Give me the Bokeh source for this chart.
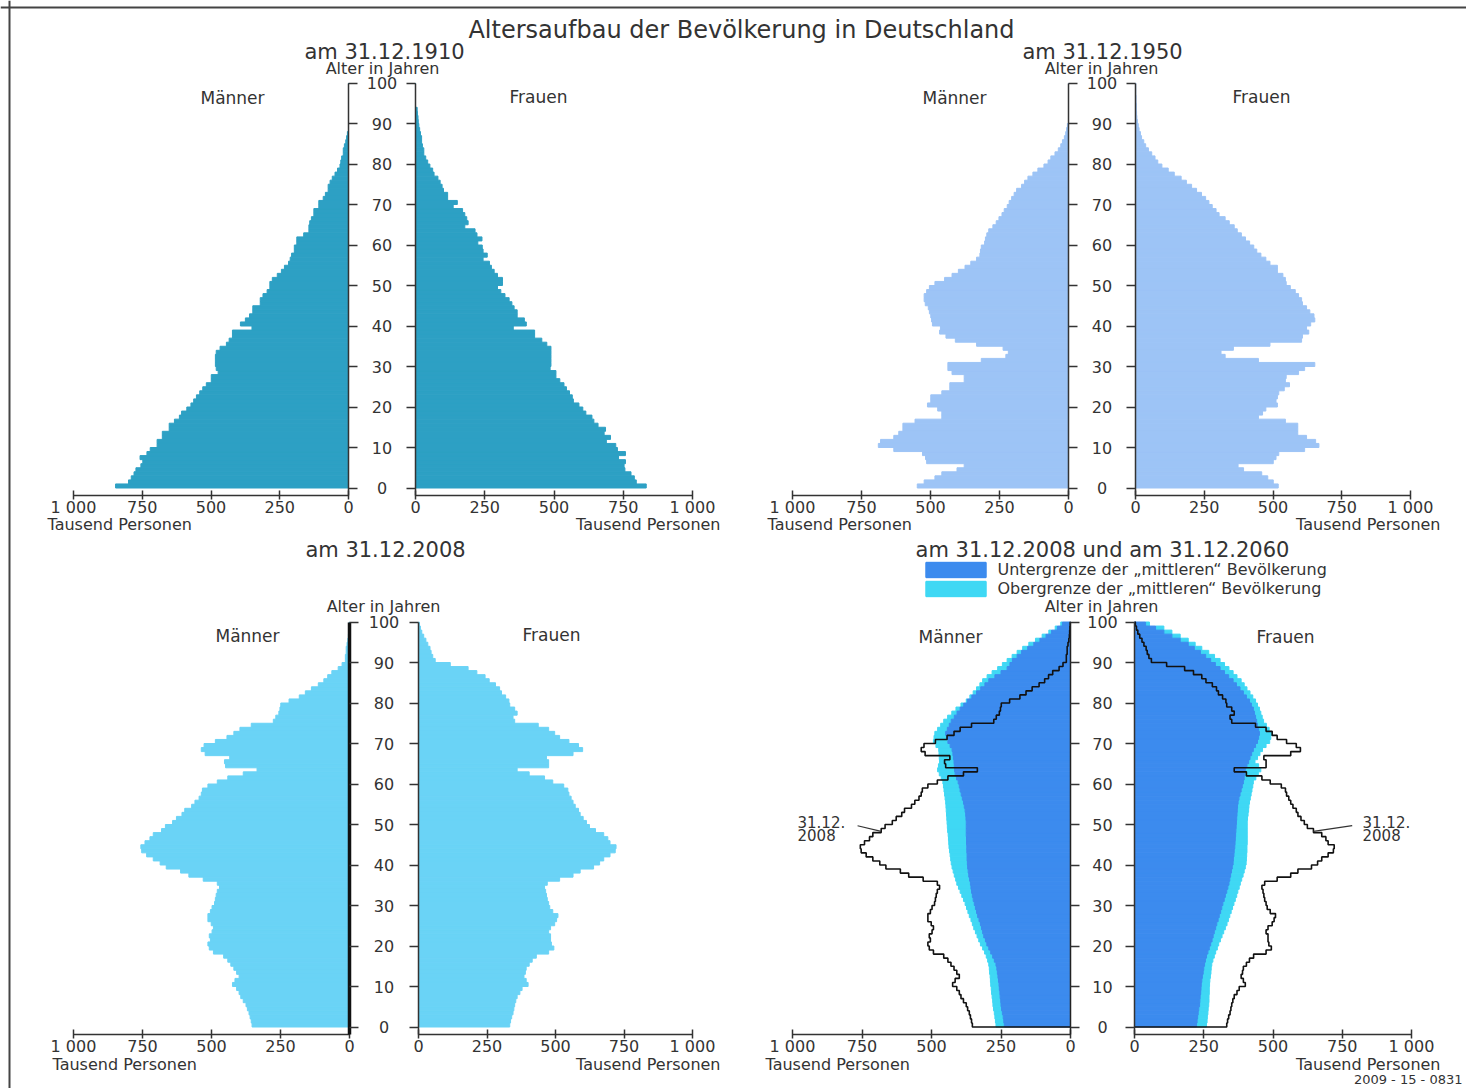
import numpy as np
from bokeh.plotting import figure
from bokeh.models import Range1d, LinearAxis, FixedTicker, Label, Legend, LegendItem, Span
from bokeh.core.properties import value
from bokeh.embed import file_html
from bokeh.resources import INLINE

# ---------------- data (thousand persons per single year of age 0..99) ----------------
AGES = np.arange(100)
AGE_TICKS = [0, 10, 20, 30, 40, 50, 60, 70, 80, 90, 100]
AGE_TICK_LABELS = [str(a) for a in AGE_TICKS]
X_TICKS = [0, 250, 500, 750, 1000]
X_TICK_LABELS = {0: "0", 250: "250", 500: "500", 750: "750", 1000: "1 000"}

M1910 = [847, 800, 790, 780, 773, 755, 748, 758, 733, 721,
         696, 696, 677, 677, 652, 652, 633, 615, 607, 588,
         573, 563, 553, 541, 530, 517, 499, 499, 474, 481,
         484, 484, 484, 481, 467, 444, 434, 422, 422, 351,
         393, 375, 360, 348, 348, 321, 321, 311, 296, 286,
         286, 277, 259, 244, 233, 218, 212, 207, 197, 197,
         188, 188, 163, 144, 144, 141, 135, 126, 126, 108,
         108, 92, 84, 74, 74, 67, 59, 49, 40, 31,
         28, 25, 19, 19, 15, 10, 7, 4, 0, 0,
         0, 0, 0, 0, 0, 0, 0, 0, 0, 0]
F1910 = [833, 797, 790, 778, 756, 753, 758, 733, 758, 729,
         723, 689, 704, 681, 686, 659, 644, 637, 615, 604,
         590, 570, 566, 556, 545, 536, 521, 507, 507, 486,
         489, 489, 489, 489, 489, 474, 456, 430, 430, 353,
         400, 393, 367, 367, 356, 348, 338, 323, 308, 296,
         314, 314, 296, 284, 274, 267, 244, 259, 244, 241,
         225, 240, 222, 215, 178, 190, 185, 178, 170, 136,
         151, 116, 116, 101, 96, 89, 81, 67, 62, 52,
         44, 37, 30, 30, 25, 22, 22, 18, 15, 12,
         10, 9, 7, 6, 0, 0, 0, 0, 0, 0]
M1950 = [548, 523, 484, 459, 404, 378, 514, 518, 529, 633,
         689, 681, 633, 615, 600, 600, 556, 459, 459, 474,
         511, 499, 499, 459, 430, 430, 378, 378, 422, 437,
         437, 316, 227, 218, 237, 333, 410, 444, 467, 464,
         493, 496, 499, 504, 508, 519, 523, 523, 514, 504,
         484, 449, 422, 399, 375, 354, 333, 321, 319, 316,
         304, 301, 296, 289, 274, 262, 252, 241, 233, 222,
         215, 206, 197, 188, 170, 159, 147, 129, 111, 89,
         74, 64, 49, 37, 28, 22, 15, 10, 7, 4,
         0, 0, 0, 0, 0, 0, 0, 0, 0, 0]
F1950 = [519, 501, 481, 459, 393, 373, 501, 511, 521, 615,
         667, 655, 622, 590, 590, 590, 545, 447, 462, 474,
         516, 511, 516, 521, 541, 560, 545, 548, 593, 615,
         652, 447, 326, 311, 356, 489, 604, 607, 630, 622,
         637, 652, 649, 634, 622, 607, 604, 593, 581, 563,
         548, 545, 536, 516, 516, 489, 474, 456, 441, 430,
         415, 400, 385, 370, 359, 341, 326, 304, 293, 279,
         267, 255, 240, 222, 204, 185, 166, 141, 119, 96,
         81, 71, 59, 47, 37, 30, 22, 18, 13, 10,
         7, 5, 4, 3, 3, 2, 2, 1, 1, 1]
M2008 = [353, 356, 360, 364, 370, 375, 385, 394, 400, 409,
         424, 415, 400, 409, 419, 430, 441, 456, 493, 508,
         513, 504, 508, 498, 493, 501, 513, 513, 504, 498,
         489, 486, 483, 479, 471, 479, 530, 582, 612, 664,
         686, 711, 735, 753, 756, 741, 723, 711, 681, 667,
         641, 627, 607, 597, 572, 560, 545, 537, 533, 513,
         479, 441, 385, 335, 449, 453, 434, 523, 537, 527,
         486, 444, 419, 397, 356, 276, 267, 256, 252, 249,
         219, 182, 160, 138, 113, 93, 79, 64, 41, 27,
         15, 15, 12, 12, 9, 6, 4, 3, 2, 1]
F2008 = [333, 336, 340, 345, 348, 351, 355, 360, 370, 378,
         400, 393, 385, 390, 393, 404, 415, 430, 475, 494,
         485, 482, 482, 475, 482, 497, 504, 509, 490, 479,
         475, 470, 467, 464, 460, 470, 515, 564, 590, 639,
         661, 676, 699, 718, 721, 699, 691, 676, 646, 624,
         613, 601, 590, 584, 572, 564, 557, 549, 545, 530,
         490, 460, 404, 360, 475, 475, 467, 564, 599, 584,
         549, 515, 497, 475, 437, 351, 345, 360, 351, 333,
         330, 318, 303, 296, 281, 258, 243, 213, 181, 116,
         61, 52, 46, 42, 34, 27, 19, 12, 7, 3]
# 2060: lower / upper bound of the "mittlere" population
M2060_LOW = [238, 240, 242, 245, 248, 250, 251, 253, 254, 256,
             257, 259, 261, 263, 265, 268, 274, 280, 287, 294,
             301, 306, 312, 316, 320, 324, 329, 334, 338, 342,
             346, 350, 353, 356, 358, 360, 363, 366, 368, 370,
             371, 372, 372, 373, 373, 374, 374, 375, 375, 375,
             375, 376, 377, 379, 382, 385, 389, 393, 397, 400,
             404, 410, 415, 417, 418, 419, 421, 423, 426, 433,
             441, 445, 449, 443, 436, 429, 418, 408, 397, 384,
             371, 355, 338, 323, 308, 294, 272, 250, 228, 218,
             209, 192, 176, 154, 132, 110, 88, 68, 47, 29]
M2060_HIGH = [268, 270, 272, 274, 277, 279, 280, 282, 284, 285,
              287, 288, 289, 291, 292, 294, 298, 303, 309, 316,
              324, 330, 336, 342, 348, 353, 358, 364, 369, 374,
              379, 385, 391, 397, 403, 409, 413, 418, 422, 426,
              429, 431, 433, 435, 437, 438, 439, 440, 442, 443,
              444, 445, 446, 447, 448, 449, 451, 453, 455, 457,
              459, 465, 472, 478, 475, 471, 472, 473, 474, 484,
              493, 491, 488, 478, 467, 456, 442, 427, 412, 394,
              375, 362, 350, 338, 326, 316, 300, 282, 262, 245,
              228, 210, 192, 172, 150, 126, 102, 78, 55, 35]
F2060_LOW = [224, 226, 228, 230, 232, 235, 236, 237, 239, 240,
             241, 243, 245, 248, 250, 253, 256, 260, 265, 270,
             275, 280, 284, 288, 293, 297, 302, 306, 311, 315,
             319, 324, 328, 333, 337, 341, 344, 347, 350, 353,
             356, 357, 359, 360, 362, 363, 364, 365, 366, 367,
             368, 369, 370, 371, 372, 374, 377, 381, 385, 389,
             393, 396, 398, 400, 406, 412, 417, 423, 429, 437,
             444, 448, 451, 448, 444, 441, 437, 433, 429, 422,
             415, 404, 393, 381, 368, 356, 340, 325, 309, 292,
             275, 257, 238, 216, 194, 165, 135, 106, 76, 40]
F2060_HIGH = [260, 262, 263, 265, 266, 268, 269, 269, 270, 270,
              271, 272, 274, 276, 277, 279, 283, 288, 293, 299,
              304, 310, 316, 322, 328, 334, 339, 344, 349, 354,
              359, 364, 369, 373, 378, 382, 387, 392, 396, 400,
              403, 404, 405, 406, 406, 407, 407, 407, 407, 407,
              407, 408, 410, 412, 413, 415, 418, 421, 424, 427,
              429, 438, 447, 456, 448, 435, 444, 453, 462, 475,
              488, 492, 496, 486, 476, 466, 461, 456, 451, 444,
              437, 427, 417, 406, 396, 385, 370, 356, 341, 325,
              309, 289, 268, 243, 219, 194, 165, 135, 106, 54]

# ---------------- style / geometry ----------------
FONT = "DejaVu Sans"
TXT = "#333333"
AX = "#333333"
C1910 = "#2da0c4"
C1950 = "#9dc4f6"
C2008 = "#6ad3f6"
C_LOW = "#3c8bee"
C_HIGH = "#3fd8f4"

W, H, OX, OY = 1466, 1088, 0, 0


def xrange_px(px0, px1000):
    s = (px1000 - px0) / 1000.0
    return Range1d(start=(OX - px0) / s, end=(OX + W - px0) / s)


def yrange_px(py0, py100):
    s = (py100 - py0) / 100.0
    return Range1d(start=(OY + H - py0) / s, end=(OY - py0) / s)


p = figure(width=W, height=H, x_range=Range1d(OX, OX + W), y_range=Range1d(OY + H, OY),
           output_backend="svg", toolbar_location=None, tools="",
           x_axis_location=None, y_axis_location=None, min_border=0,
           outline_line_color=None, background_fill_color="white")
p.grid.visible = False

p.extra_x_ranges = {
    "m1": xrange_px(348, 73), "w1": xrange_px(415, 692),
    "m2": xrange_px(1068, 792), "w2": xrange_px(1135, 1410),
    "m3": xrange_px(349, 73), "w3": xrange_px(418, 692),
    "m4": xrange_px(1070, 792), "w4": xrange_px(1134, 1411),
}
p.extra_y_ranges = {"top": yrange_px(487.5, 82.5), "bot": yrange_px(1026.5, 621.5)}

Y = AGES + 0.5


def bars(left, right, xr, yr, color):
    return p.hbar(y=Y, height=1, left=left, right=right, x_range_name=xr, y_range_name=yr,
                  fill_color=color, line_color=color, line_width=1.0)


def x_axis(xr, yr):
    ax = LinearAxis(x_range_name=xr, y_range_name=yr, fixed_location=-1.8, bounds=(0, 1000),
                    ticker=FixedTicker(ticks=X_TICKS), major_label_overrides=X_TICK_LABELS,
                    axis_line_color=AX, axis_line_width=1.5,
                    major_tick_line_color=AX, major_tick_line_width=1.5,
                    major_tick_in=5, major_tick_out=4, minor_tick_line_color=None,
                    major_label_standoff=-1, major_label_text_font=FONT,
                    major_label_text_font_size="16px", major_label_text_color=TXT)
    p.add_layout(ax, "below")


def age_axis(xr, yr, side, width=1.5, color=AX):
    ax = LinearAxis(x_range_name=xr, y_range_name=yr, fixed_location=0, bounds=(-1.8, 100),
                    ticker=FixedTicker(ticks=AGE_TICKS),
                    axis_line_color=color, axis_line_width=width,
                    major_tick_line_color=AX, major_tick_line_width=1.5,
                    major_tick_in=0, major_tick_out=9, minor_tick_line_color=None,
                    major_label_text_color=None)
    p.add_layout(ax, side)


def age_labels(cx, yr):
    p.text(x=[cx] * len(AGE_TICKS), y=AGE_TICKS, text=AGE_TICK_LABELS, y_range_name=yr,
           text_align="center", text_baseline="middle", text_font=value(FONT),
           text_font_size="16px", text_color=TXT)


def label(x, y, text, size, align="center"):
    p.add_layout(Label(x=x, y=y, text=text, text_font=FONT, text_font_size=size,
                       text_color=TXT, text_align=align, text_baseline="middle"))


# panel 1 : 1910
bars(0, M1910, "m1", "top", C1910)
bars(0, F1910, "w1", "top", C1910)
# panel 2 : 1950
bars(0, M1950, "m2", "top", C1950)
bars(0, F1950, "w2", "top", C1950)
# panel 3 : 2008
bars(0, M2008, "m3", "bot", C2008)
bars(0, F2008, "w3", "bot", C2008)
# panel 4 : 2060 bands + 2008 outline
hi_m = bars(M2060_LOW, M2060_HIGH, "m4", "bot", C_HIGH)
hi_f = bars(F2060_LOW, F2060_HIGH, "w4", "bot", C_HIGH)
lo_m = bars(0, M2060_LOW, "m4", "bot", C_LOW)
lo_f = bars(0, F2060_LOW, "w4", "bot", C_LOW)


def outline(vals, xr):
    xs = np.concatenate([[0], np.repeat(vals, 2), [0]])
    ys = np.concatenate([[0], np.column_stack([AGES, AGES + 1]).ravel(), [100]])
    p.line(xs, ys, x_range_name=xr, y_range_name="bot", line_color="#111111", line_width=1.6)


outline(M2008, "m4")
outline(F2008, "w4")

# axes
for xm, xw, yr in [("m1", "w1", "top"), ("m2", "w2", "top"), ("m3", "w3", "bot"), ("m4", "w4", "bot")]:
    x_axis(xm, yr)
    x_axis(xw, yr)
    age_axis(xw, yr, "left")
age_axis("m1", "top", "right")
age_axis("m2", "top", "right")
age_axis("m3", "bot", "right", width=3.5, color="#111111")
age_axis("m4", "bot", "right", color="#222222")

age_labels(381.5, "top")
age_labels(1101.5, "top")
age_labels(383.5, "bot")
age_labels(1102, "bot")

# texts
label(741, 29, "Altersaufbau der Bevölkerung in Deutschland", "24px")
label(384, 51, "am 31.12.1910", "21px")
label(1102, 51, "am 31.12.1950", "21px")
label(385, 549, "am 31.12.2008", "21px")
label(1102, 549, "am 31.12.2008 und am 31.12.2060", "21px")
for cx, cy in [(382, 68), (1101, 68), (383, 606), (1101, 606)]:
    label(cx, cy, "Alter in Jahren", "16px")
for cx, cy in [(232, 97), (954, 97), (247, 635), (950, 636)]:
    label(cx, cy, "Männer", "17px")
for cx, cy in [(538, 96), (1261, 96), (551, 634), (1285, 636)]:
    label(cx, cy, "Frauen", "17px")
for lx, rx, cy in [(47, 720, 524), (767, 1440, 524), (52, 720, 1064), (765, 1440, 1064)]:
    label(lx, cy, "Tausend Personen", "16px", "left")
    label(rx, cy, "Tausend Personen", "16px", "right")
label(1462, 1079, "2009 - 15 - 0831", "13px", "right")

# 31.12.2008 annotations with leader lines
label(797, 821, "31.12.", "15px", "left")
label(797, 834, "2008", "15px", "left")
label(1362, 821, "31.12.", "15px", "left")
label(1362, 834, "2008", "15px", "left")
p.segment(x0=[M2008[48]], y0=[48.3], x1=[M2008[48] + 85], y1=[49.7],
          x_range_name="m4", y_range_name="bot", line_color="#333333", line_width=1.2)
p.segment(x0=[F2008[48]], y0=[48.3], x1=[F2008[48] + 140], y1=[49.7],
          x_range_name="w4", y_range_name="bot", line_color="#333333", line_width=1.2)

# legend (bottom-left corner given in screen px from the frame's bottom-left)
legend = Legend(items=[
    LegendItem(label="Untergrenze der „mittleren“ Bevölkerung", renderers=[lo_m, lo_f]),
    LegendItem(label="Obergrenze der „mittleren“ Bevölkerung", renderers=[hi_m, hi_f]),
], location=(917.5, H - 598), orientation="vertical", glyph_width=75, glyph_height=19,
    label_standoff=5, spacing=0, padding=0, margin=0, label_height=19,
    border_line_color=None, background_fill_alpha=0,
    label_text_font=FONT, label_text_font_size="16px", label_text_color=TXT)
p.add_layout(legend)

# frame lines (top, left)
p.add_layout(Span(location=7, dimension="width", line_color="#444444", line_width=2))
p.add_layout(Span(location=9, dimension="height", line_color="#444444", line_width=2))

open("out.html", "w").write(file_html(p, INLINE))
